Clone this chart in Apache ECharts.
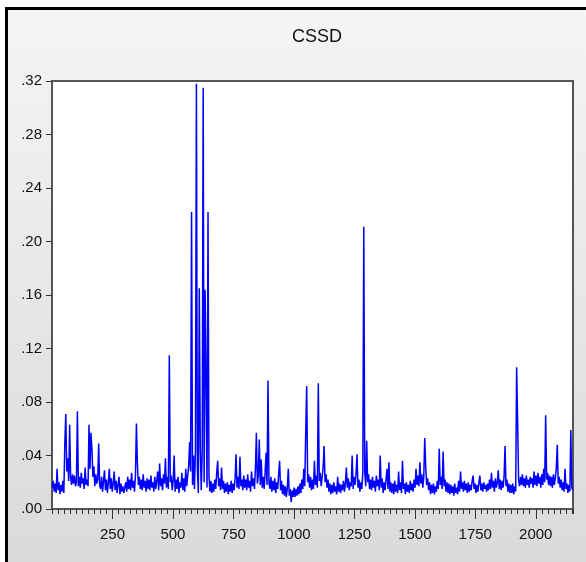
<!DOCTYPE html>
<html>
<head>
<meta charset="utf-8">
<script src="https://cdn.jsdelivr.net/npm/echarts@6.0.0/dist/echarts.min.js"></script>
<style>
  html, body { margin: 0; padding: 0; background: #fff; }
  #frame {
    position: absolute; left: 5px; top: 7px; right: 0; bottom: 0;
    border-left: 3px solid #000; border-top: 3px solid #000;
    background: linear-gradient(#f5f5f5, #dadada);
  }
  #chart { position: absolute; left: 0; top: 0; width: 586px; height: 562px; }
</style>
</head>
<body>
<div id="frame"></div>
<div id="chart"></div>
<script>
// CSSD, one reading every 4 observations (obs 1, 5, 9, ... 2153)
const obsStart = 1;
const obsStep = 4;
const obsMax = 2154;
const cssd = [
  .016,.021,.013,.019,.012,.030,.014,.020,.011,.018,.013,.021,.012,.049,.071,.028,.038,.021,.063,.024,.018,.026,.019,.025,.017,
  .020,.073,.017,.024,.016,.027,.019,.023,.015,.031,.018,.022,.017,.063,.030,.057,.045,.024,.032,.017,.026,.019,.022,.049,.018,
  .015,.024,.013,.021,.029,.014,.022,.012,.020,.030,.015,.023,.013,.019,.028,.014,.021,.012,.018,.024,.011,.019,.013,.017,.012,
  .011,.020,.013,.024,.015,.022,.014,.027,.016,.021,.013,.025,.064,.034,.018,.024,.015,.022,.014,.026,.016,.021,.013,.023,.015,
  .022,.014,.025,.016,.020,.013,.024,.015,.021,.028,.014,.034,.017,.023,.014,.026,.019,.038,.016,.024,.015,.115,.020,.025,.014,
  .021,.040,.013,.022,.015,.024,.012,.020,.016,.027,.014,.023,.013,.030,.017,.025,.032,.050,.028,.222,.018,.040,.015,.044,.318,
  .030,.012,.165,.046,.014,.042,.315,.020,.164,.098,.016,.222,.024,.013,.021,.012,.019,.013,.022,.015,.027,.036,.017,.023,.014,
  .031,.015,.021,.012,.019,.013,.020,.011,.018,.013,.021,.012,.019,.014,.023,.041,.016,.024,.015,.039,.017,.022,.014,.025,.016,
  .022,.014,.026,.016,.021,.013,.028,.017,.023,.015,.030,.057,.019,.025,.052,.018,.037,.016,.024,.015,.027,.042,.018,.096,.020,
  .015,.024,.013,.021,.014,.023,.012,.020,.015,.026,.036,.014,.021,.011,.018,.010,.017,.009,.016,.030,.010,.015,.005,.014,.009,
  .016,.009,.015,.010,.017,.011,.019,.012,.022,.015,.030,.017,.058,.092,.020,.026,.016,.024,.014,.022,.015,.036,.018,.025,.016,
  .094,.021,.027,.017,.024,.031,.047,.020,.026,.016,.022,.013,.019,.011,.018,.012,.020,.013,.017,.011,.024,.013,.019,.012,.018,
  .014,.021,.013,.019,.031,.016,.023,.014,.020,.017,.040,.015,.024,.018,.026,.041,.016,.022,.013,.020,.015,.027,.211,.028,.017,
  .051,.020,.026,.015,.022,.014,.024,.016,.021,.013,.025,.017,.022,.014,.040,.016,.023,.012,.020,.014,.022,.030,.015,.035,.013,
  .020,.012,.019,.011,.021,.013,.018,.012,.028,.014,.020,.012,.036,.015,.019,.011,.020,.013,.018,.012,.021,.014,.019,.013,.022,
  .016,.030,.018,.025,.017,.035,.019,.026,.016,.024,.053,.032,.018,.023,.014,.020,.011,.018,.012,.019,.011,.017,.013,.021,.015,
  .045,.018,.024,.015,.043,.017,.022,.013,.020,.012,.019,.011,.018,.012,.017,.010,.019,.012,.016,.011,.021,.013,.028,.015,.020,
  .013,.021,.014,.019,.012,.020,.013,.018,.014,.021,.025,.015,.019,.012,.018,.013,.020,.025,.014,.019,.013,.020,.015,.018,.013,
  .019,.014,.022,.015,.027,.016,.021,.013,.023,.016,.020,.029,.015,.022,.014,.021,.016,.024,.047,.017,.022,.013,.019,.012,.018,
  .012,.019,.011,.017,.013,.106,.066,.022,.017,.024,.018,.026,.017,.023,.016,.025,.018,.022,.016,.024,.019,.023,.016,.028,.018,
  .025,.017,.027,.019,.024,.016,.026,.018,.030,.020,.070,.022,.027,.018,.025,.017,.024,.016,.026,.018,.023,.031,.048,.019,.024,
  .016,.022,.014,.020,.013,.030,.015,.019,.012,.018,.013,.059,.016,.014
];

const font = '"Liberation Sans", Arial, sans-serif';

const chart = echarts.init(document.getElementById('chart'), null, { renderer: 'canvas' });
chart.setOption({
  animation: false,
  backgroundColor: 'transparent',
  title: {
    text: 'CSSD',
    left: 312,
    top: 23,
    textAlign: 'center',
    textStyle: { fontFamily: font, fontSize: 18, fontWeight: 'normal', color: '#111' }
  },
  grid: {
    left: 52, right: 13, top: 81, bottom: 53,
    show: true, backgroundColor: '#fff', borderColor: '#555', borderWidth: 2
  },
  xAxis: [
    {
      type: 'value', min: 0, max: obsMax, interval: 250,
      axisLine: { show: false },
      axisTick: { length: 10, lineStyle: { color: '#333', width: 1 } },
      axisLabel: {
        margin: 18, fontFamily: font, fontSize: 15, color: '#111',
        showMinLabel: false, showMaxLabel: false,
        formatter: v => (v % 250 === 0 && v > 0) ? String(v) : ''
      },
      splitLine: { show: false }
    },
    {
      type: 'value', min: 0, max: obsMax, interval: 25, position: 'bottom',
      axisLine: { show: false },
      axisTick: { length: 5, lineStyle: { color: '#333', width: 1 } },
      axisLabel: { show: false },
      splitLine: { show: false }
    }
  ],
  yAxis: {
    type: 'value', min: 0, max: 0.32, interval: 0.04,
    axisLine: { show: false },
    axisTick: { show: true, length: 6, lineStyle: { color: '#333', width: 1 } },
    axisLabel: {
      margin: 10, fontFamily: font, fontSize: 15, color: '#111',
      formatter: v => v.toFixed(2).replace(/^0/, '')
    },
    splitLine: { show: false }
  },
  series: [{
    type: 'line',
    xAxisIndex: 0,
    data: cssd.map((v, i) => [obsStart + i * obsStep, v]),
    showSymbol: false,
    symbol: 'none',
    lineStyle: { color: '#0000ff', width: 1.5 },
    z: 1
  }]
});
</script>
</body>
</html>
